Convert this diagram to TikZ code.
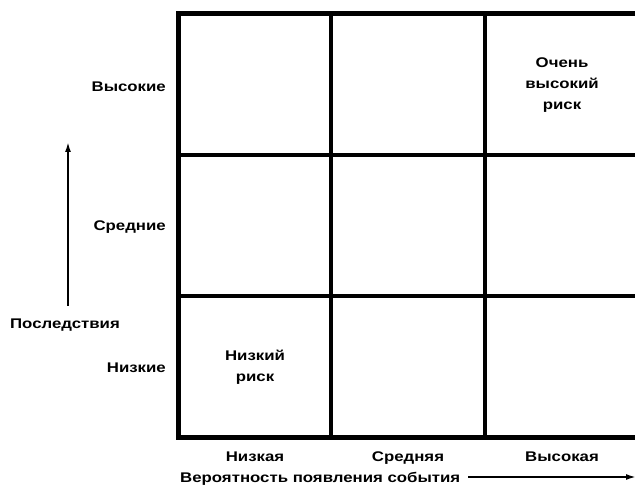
\documentclass[tikz,border=0pt]{standalone}
\usepackage{fontspec}
\setmainfont{Liberation Sans}[FakeStretch=1.2]
\usetikzlibrary{arrows.meta}
\begin{document}
\begin{tikzpicture}[x=1pt,y=-1pt,
  lbl/.style={font=\bfseries\fontsize{14}{21}\selectfont, inner sep=0pt},
  cell/.style={font=\bfseries\fontsize{14}{21}\selectfont, inner sep=0pt, align=center},
  outer/.style={line width=5pt},
  inner/.style={line width=3.2pt},
  axis/.style={line width=1.8pt, -{Latex[length=10pt,width=6pt]}}]
\useasboundingbox[fill=white] (0,0) rectangle (635,489);
% grid
\draw[inner] (331,14) -- (331,437);
\draw[inner] (485,14) -- (485,437);
\draw[inner] (178,155) -- (640,155);
\draw[inner] (178,296) -- (640,296);
\draw[outer] (640,14) -- (178,14) -- (178,437) -- (640,437);
% row labels
\node[lbl, anchor=base east] (hi) at (166,92) {Высокие};
\node[lbl, anchor=base east] (mid) at (166,231) {Средние};
\node[lbl, anchor=base east] (lo) at (166,372) {Низкие};
\node[lbl, anchor=base] (cons) at (65,328) {Последствия};
\coordinate (cstart) at (68,306);
\coordinate (cend) at (68,142);
\draw[axis] (cstart) -- (cend);
% cell texts
\node[cell] (lowrisk) at (255,367) {Низкий\\риск};
\node[cell] (veryhigh) at (562,85) {Очень\\высокий\\риск};
% column labels
\node[lbl, anchor=base] (clo) at (255,461) {Низкая};
\node[lbl, anchor=base] (cmid) at (408,461) {Средняя};
\node[lbl, anchor=base] (chi) at (562,461) {Высокая};
\node[lbl, anchor=base west] (prob) at (180,482) {Вероятность появления события};
\coordinate (pend) at (636,477);
\draw[axis] (prob.east |- pend) ++(8,0) coordinate (pstart) -- (pend);
\end{tikzpicture}
\end{document}
